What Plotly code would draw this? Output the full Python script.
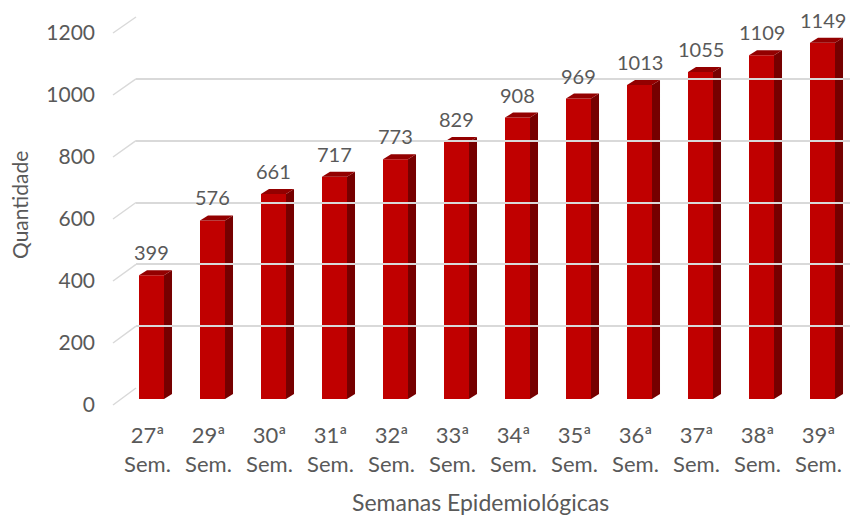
import plotly.graph_objects as go

categories = ["27ª<br>Sem.", "29ª<br>Sem.", "30ª<br>Sem.", "31ª<br>Sem.", "32ª<br>Sem.", "33ª<br>Sem.",
              "34ª<br>Sem.", "35ª<br>Sem.", "36ª<br>Sem.", "37ª<br>Sem.", "38ª<br>Sem.", "39ª<br>Sem."]
values = [399, 576, 661, 717, 773, 829, 908, 969, 1013, 1055, 1109, 1149]
y_ticks = [0, 200, 400, 600, 800, 1000, 1200]

# the page body has an 8px default margin; the figure is sized to fill the window exactly
OFF = 8
W, H = 858 - OFF, 516 - OFF
FONT = "Lato"
TXT = "#595959"
FRONT = "#C00000"
SIDE = "#760000"
TOP = "#930000"
GRID = "#D9D9D9"

def px(x):
    return (x - OFF) / W

def py(y):
    return 1 - (y - OFF) / H

YMAX = 1200
# window-pixel geometry of the pseudo-3D planes
BAR_Y0, BAR_Y1 = 399, 27       # bar plane (value 0 / 1200)
FR_Y0, FR_Y1 = 405, 33         # front edge (tick labels)
BK_Y0, BK_Y1 = 388, 17         # back wall (gridlines)
FR_X, BK_X = 113, 136

idx = list(range(len(values)))
bw = 0.41
dx = 8 / 61
dy = 5 / ((BAR_Y0 - BAR_Y1) / YMAX)

fig = go.Figure()
fig.add_trace(go.Bar(x=idx, y=values, width=bw, marker=dict(color=FRONT, line=dict(width=0)),
                     hoverinfo="skip", showlegend=False))

sx, sy, tx, ty = [], [], [], []
for i, v in zip(idx, values):
    xl, xr = i - bw / 2, i + bw / 2
    sx += [xr, xr, xr + dx, xr + dx, xr, None]
    sy += [0, v, v + dy, dy, 0, None]
    tx += [xl, xr, xr + dx, xl + dx, xl, None]
    ty += [v, v, v + dy, v + dy, v, None]
fig.add_trace(go.Scatter(x=sx, y=sy, mode="lines", fill="toself", fillcolor=SIDE,
                         line=dict(width=0, color=SIDE), hoverinfo="skip", showlegend=False))
fig.add_trace(go.Scatter(x=tx, y=ty, mode="lines", fill="toself", fillcolor=TOP,
                         line=dict(width=0, color=TOP), hoverinfo="skip", showlegend=False))

# dummy traces so the helper axes exist
fig.add_trace(go.Scatter(x=[], y=[], xaxis="x2", yaxis="y2", showlegend=False))
fig.add_trace(go.Scatter(x=[], y=[], xaxis="x2", yaxis="y3", showlegend=False))

# data labels
for i, v in zip(idx, values):
    fig.add_annotation(x=i, y=v, xref="x", yref="y", text=str(v), showarrow=False,
                       xanchor="center", yanchor="middle", yshift=23,
                       font=dict(family=FONT, size=20, color=TXT))

# diagonal floor/wall edges of the gridlines
for t in y_ticks:
    yf = FR_Y0 - (FR_Y0 - FR_Y1) * t / YMAX
    yb = BK_Y0 - (BK_Y0 - BK_Y1) * t / YMAX
    fig.add_shape(type="line", xref="paper", yref="paper", x0=px(FR_X), y0=py(yf),
                  x1=px(BK_X), y1=py(yb), line=dict(color=GRID, width=1.5), layer="below")

fig.add_annotation(text="Quantidade", x=px(19), y=py(205), xref="paper", yref="paper",
                   xanchor="center", yanchor="middle", textangle=-90, showarrow=False,
                   font=dict(family=FONT, size=21, color=TXT))
fig.add_annotation(text="Semanas Epidemiológicas", x=px(480), y=py(502), xref="paper", yref="paper",
                   xanchor="center", yanchor="middle", showarrow=False,
                   font=dict(family=FONT, size=23, color=TXT))

fig.update_layout(
    width=W, height=H, margin=dict(l=0, r=0, t=0, b=0, pad=0, autoexpand=False),
    paper_bgcolor="white", plot_bgcolor="rgba(0,0,0,0)",
    font=dict(family=FONT, size=20, color=TXT),
    xaxis=dict(domain=[px(121), px(853)], range=[-0.5, 11.5], tickmode="array", tickvals=idx,
               ticktext=categories, showgrid=False, zeroline=False, showline=False, ticks="",
               anchor="y", automargin=False, tickfont=dict(family=FONT, size=22, color=TXT),
               ticklabelstandoff=21, ticklabelshift=-4),
    yaxis=dict(domain=[py(BAR_Y0), py(BAR_Y1)], range=[0, YMAX], visible=False, anchor="x",
               automargin=False),
    xaxis2=dict(domain=[px(BK_X), 1], range=[0, 1], visible=False, anchor="y2", automargin=False),
    yaxis2=dict(domain=[py(BK_Y0), py(BK_Y1)], range=[0, YMAX], anchor="x2", showgrid=True,
                gridcolor=GRID, gridwidth=1.5, tickmode="array", tickvals=y_ticks,
                showticklabels=False, zeroline=False, showline=False, ticks="", automargin=False),
    yaxis3=dict(domain=[py(FR_Y0), py(FR_Y1)], range=[0, YMAX], anchor="free", position=px(FR_X),
                tickmode="array", tickvals=y_ticks, showgrid=False, zeroline=False, showline=False,
                ticks="", ticklabelstandoff=18, automargin=False,
                tickfont=dict(family=FONT, size=21, color=TXT)),
)

fig.write_html("out.html")
